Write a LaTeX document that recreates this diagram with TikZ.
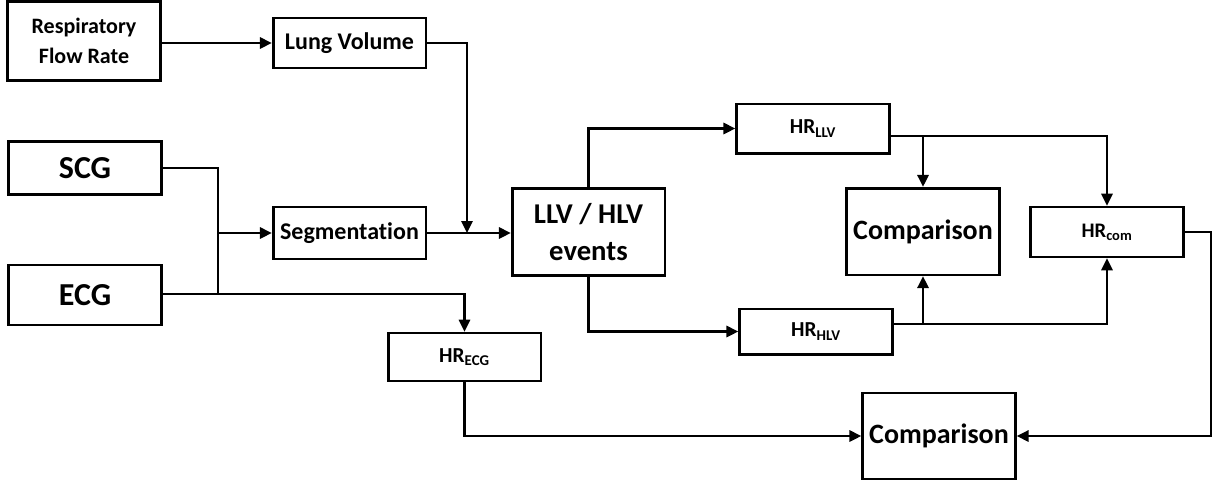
\documentclass[tikz,border=0pt]{standalone}
\usepackage{fontspec}
\setmainfont{Carlito}[Ligatures=CommonOff]
\usepackage{tikz}
\usetikzlibrary{arrows.meta, positioning, calc}
\tikzset{
  blockbox/.style={
    rectangle, draw=black, line width=2pt,
    minimum width=114.5pt, inner sep=0pt,
    align=center, font=\bfseries
  },
  conn/.style={-{Triangle[length=9pt,width=8.5pt]}, line width=1.6pt},
  line/.style={line width=1.6pt}
}
\newcommand{\hrsub}[1]{HR\textsubscript{#1}}

\begin{document}
\begin{tikzpicture}[x=0.75pt, y=-0.75pt]
          \useasboundingbox (0,0) rectangle (1214,482);

          % Inputs
          \node[blockbox, minimum height=59pt, font=\bfseries\fontsize{16.5}{22.5}\selectfont] (resp) at (84,41) {Respiratory\\Flow Rate};
          \node[blockbox, minimum height=40pt, font=\bfseries\fontsize{24}{27}\selectfont] (scg) at (85,168) {SCG};
          \node[blockbox, minimum height=45pt, font=\bfseries\fontsize{24}{27}\selectfont] (ecg) at (85,295) {ECG};

          % Processing
          \node[blockbox, minimum height=37.5pt, font=\bfseries\fontsize{18}{21}\selectfont] (lung) at (349.5,43) {Lung Volume};
          \node[blockbox, minimum height=39pt, font=\bfseries\fontsize{18}{21}\selectfont] (seg) at (349.5,233) {Segmentation};
          \node[blockbox, minimum height=65pt, font=\bfseries\fontsize{21.5}{28}\selectfont] (lhv) at (588.5,232) {LLV / HLV\\events};

          % Heart rates
          \node[blockbox, minimum height=37pt, font=\bfseries\fontsize{16}{19}\selectfont] (hrllv) at (813,128.5) {\hrsub{LLV}};
          \node[blockbox, minimum height=34pt, font=\bfseries\fontsize{16}{19}\selectfont] (hrhlv) at (816,331.5) {\hrsub{HLV}};
          \node[blockbox, minimum height=37.5pt, font=\bfseries\fontsize{15.5}{19}\selectfont] (hrcom) at (1107,232) {\hrsub{com}};
          \node[blockbox, minimum height=36pt, font=\bfseries\fontsize{16}{19}\selectfont] (hrecg) at (464.5,357) {\hrsub{ECG}};

          % Comparisons
          \node[blockbox, minimum height=65pt, font=\bfseries\fontsize{21}{25}\selectfont] (cmpa) at (923,231.5) {Comparison};
          \node[blockbox, minimum height=64.5pt, font=\bfseries\fontsize{21}{25}\selectfont] (cmpb) at (939,436) {Comparison};

          % Turning points
          \coordinate (merge) at (467,233);
          \coordinate (join) at (218,294);
          \coordinate (rturn) at (1211,0);
          \coordinate (llvout) at ([yshift=-5.5pt]hrllv.east);
          \coordinate (hlvout) at ([yshift=5.5pt]hrhlv.east);

          % Connectors
          \draw[conn] (resp.east |- lung.west) -- (lung.west);
          \draw[conn] (lung.east) -| (merge);
          \draw[conn] (seg.east) -- (seg.east -| lhv.west);
          \draw[line] (scg.east) -| (join);
          \draw[conn] (join |- seg.west) -- (seg.west);
          \draw[conn] (ecg.east |- join) -| (hrecg.north);
          \draw[conn] (lhv.north) |- (hrllv.west);
          \draw[conn] (lhv.south) |- (hrhlv.west);
          \draw[conn] (llvout) -| (hrcom.north);
          \draw[conn] (llvout -| cmpa.north) -- (cmpa.north);
          \draw[conn] (hlvout) -| (hrcom.south);
          \draw[conn] (hlvout -| cmpa.south) -- (cmpa.south);
          \draw[conn] (hrcom.east) -- (hrcom.east -| rturn) |- (cmpb.east);
          \draw[conn] (hrecg.south) |- (cmpb.west);
        \end{tikzpicture}
\end{document}
